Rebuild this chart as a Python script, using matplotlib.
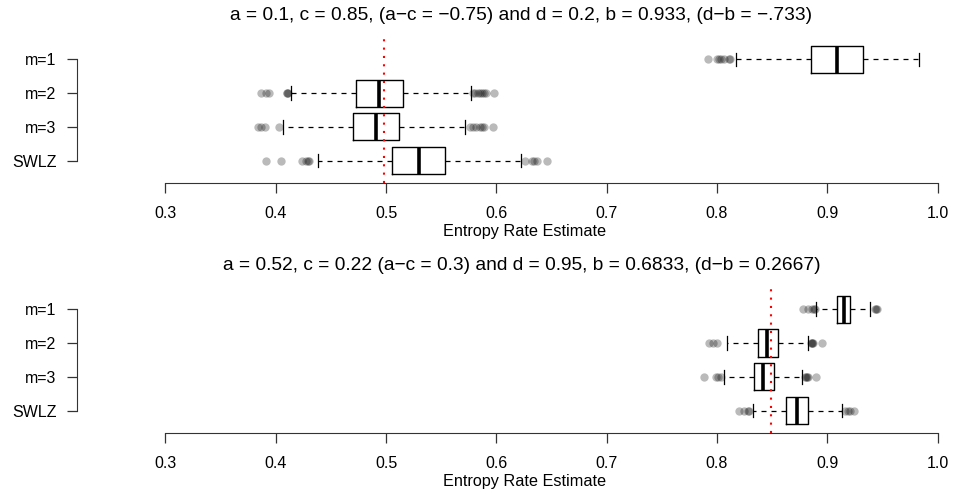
import matplotlib
matplotlib.use("Agg")
import matplotlib.pyplot as plt

plt.rcParams['font.family'] = ['Liberation Sans', 'DejaVu Sans']

labels = ['m=1', 'm=2', 'm=3', 'SWLZ']
xticks = [0.3, 0.4, 0.5, 0.6, 0.7, 0.8, 0.9, 1.0]

# top panel
top_title = "a = 0.1, c = 0.85, (a\u2212c = \u22120.75) and d = 0.2, b = 0.933, (d\u2212b = \u2212.733)"
top_q1 = [0.885, 0.473, 0.470, 0.505]
top_med = [0.909, 0.494, 0.491, 0.530]
top_q3 = [0.932, 0.515, 0.512, 0.553]
top_lo = [0.817, 0.414, 0.407, 0.438]
top_hi = [0.983, 0.577, 0.572, 0.622]
top_fliers = [
    [0.792, 0.800, 0.802, 0.804, 0.806, 0.811, 0.812],
    [0.387, 0.391, 0.394, 0.410, 0.410, 0.411,
     0.579, 0.581, 0.583, 0.585, 0.587, 0.589, 0.591, 0.598],
    [0.384, 0.387, 0.390, 0.403,
     0.576, 0.579, 0.582, 0.585, 0.587, 0.589, 0.597],
    [0.391, 0.405, 0.424, 0.427, 0.429, 0.430,
     0.626, 0.632, 0.634, 0.637, 0.646],
]
top_ref = 0.498

# bottom panel
bot_title = "a = 0.52, c = 0.22 (a\u2212c = 0.3) and d = 0.95, b = 0.6833, (d\u2212b = 0.2667)"
bot_q1 = [0.9085, 0.837, 0.834, 0.8624]
bot_med = [0.915, 0.845, 0.842, 0.873]
bot_q3 = [0.921, 0.855, 0.852, 0.883]
bot_lo = [0.890, 0.809, 0.8066, 0.833]
bot_hi = [0.939, 0.8826, 0.877, 0.9136]
bot_fliers = [
    [0.878, 0.883, 0.886, 0.888, 0.889, 0.943, 0.944, 0.945],
    [0.793, 0.796, 0.800, 0.885, 0.886, 0.886, 0.887, 0.895],
    [0.788, 0.799, 0.801, 0.804, 0.880, 0.881, 0.882, 0.883, 0.890],
    [0.820, 0.825, 0.828, 0.829, 0.9165, 0.919, 0.921, 0.924],
]
bot_ref = 0.849

W, H = 954, 496
fig = plt.figure(figsize=(W / 100, H / 100), dpi=100)


def panel(top_px, bot_px, q1, med, q3, lo, hi, fliers, ref, title, title_y):
    ax = fig.add_axes([77 / W, 1 - bot_px / H, 870 / W, (bot_px - top_px) / H])
    stats = []
    for i in range(len(labels)):
        stats.append(dict(q1=q1[i], med=med[i], q3=q3[i], whislo=lo[i],
                          whishi=hi[i], fliers=fliers[i], label=labels[i]))
    ax.bxp(stats, positions=[4, 3, 2, 1], widths=0.8, capwidths=0.4,
           orientation='horizontal',
           boxprops=dict(color='black', lw=1.0),
           whiskerprops=dict(color='black', lw=0.9, linestyle=(0, (4, 4))),
           capprops=dict(color='black', lw=0.9),
           medianprops=dict(color='black', lw=2.6),
           flierprops=dict(marker='o', markerfacecolor='black', markeredgecolor='none',
                           alpha=0.27, markersize=6))
    ax.axvline(ref, color='red', lw=1.5, linestyle=(0, (1, 3)))
    ax.set_xlim(0.2198, 1.0086)
    ax.set_ylim(0.34, 4.66)
    for s in ['top', 'right']:
        ax.spines[s].set_visible(False)
    ax.spines['bottom'].set_bounds(0.3, 1.0)
    ax.spines['left'].set_bounds(1, 4)
    ax.spines['bottom'].set_color('#333333')
    ax.spines['left'].set_color('#333333')
    ax.set_xticks(xticks)
    ax.set_xticklabels(['%.1f' % t for t in xticks])
    ax.set_yticks([4, 3, 2, 1])
    ax.set_yticklabels(labels)
    ax.tick_params(axis='both', length=7.2, width=0.9, color='#333333',
                   labelsize=11.5, pad=7.5)
    ax.tick_params(axis='x', pad=9)
    ax.set_xlabel('Entropy Rate Estimate', fontsize=11.7, labelpad=2.5)
    ax.xaxis.label.set_x((524.5 - 77) / 870)
    fig.text(521.5 / W, 1 - title_y / H, title, ha='center', va='center', fontsize=13.8)
    return ax


panel(37, 183, top_q1, top_med, top_q3, top_lo, top_hi, top_fliers, top_ref, top_title, 15)
panel(286.8, 433, bot_q1, bot_med, bot_q3, bot_lo, bot_hi, bot_fliers, bot_ref, bot_title, 265)

fig.savefig('out.png', dpi=100)
